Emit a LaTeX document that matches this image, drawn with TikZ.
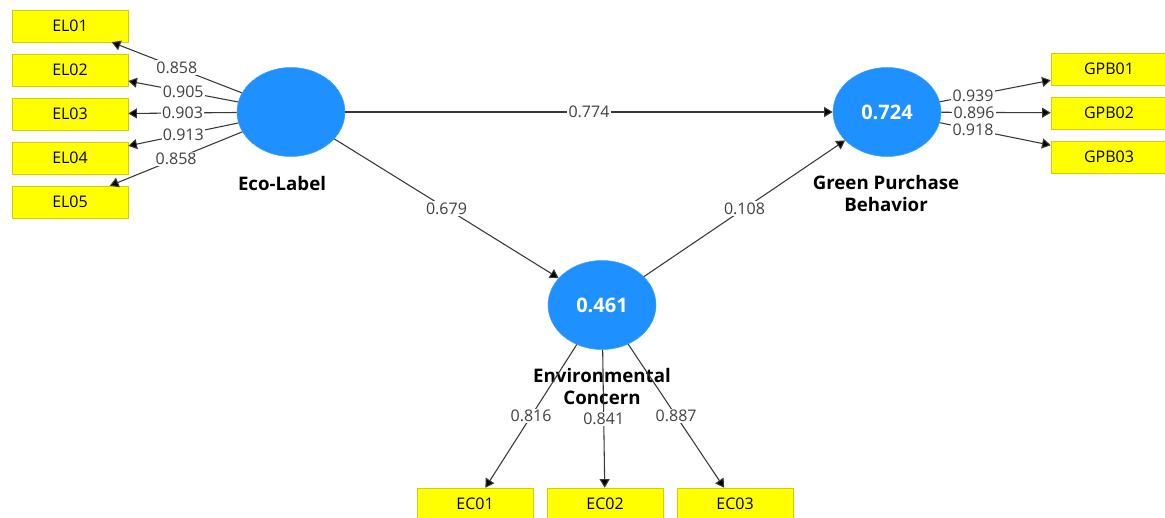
\documentclass[tikz,border=0pt]{standalone}
\usepackage{fontspec}
\setmainfont{Open Sans}
\usetikzlibrary{positioning,shapes.geometric,arrows.meta}
\definecolor{lvblue}{RGB}{30,144,255}
\definecolor{mvyellow}{RGB}{255,255,0}
\definecolor{mvborder}{RGB}{215,205,0}
\definecolor{linkgray}{RGB}{55,55,55}
\tikzset{
latent/.style={ellipse, fill=lvblue, draw=lvblue!85!white, minimum width=81pt, minimum height=66.75pt, inner sep=0pt, text=white, font=\fontsize{15}{17}\selectfont\bfseries}, % latent variable
manifest/.style={rectangle, fill=mvyellow, draw=mvborder, minimum width=87pt, minimum height=24pt, inner sep=0pt, font=\fontsize{12}{14}\selectfont}, % indicator
lvname/.style={font=\fontsize{14}{16.5}\selectfont\bfseries, align=center},
coef/.style={fill=white, inner sep=1pt, text=black!75, font=\fontsize{12}{14}\selectfont},
link/.style={draw=linkgray, line width=0.8pt, -{Triangle[length=6.5pt,width=7.5pt]}},
}
\begin{document}
\begin{tikzpicture}[x=0.75pt,y=-0.75pt,node distance=33pt,on grid]
   \useasboundingbox (0,0) rectangle (1165,518);
   % latent variables
   \node[latent] (eco) at (291,112) {};
   \node[latent] (gpb) at (887,112) {0.724};
   \node[latent] (ec)  at (602,305) {0.461};
   \node[lvname] (eco_name) at (282,183) {Eco-Label};
   \node[lvname] (gpb_name) at (886,193) {Green Purchase\\Behavior};
   \node[lvname] (ec_name)  at (602,386) {Environmental\\Concern};
   % indicators
   \node[manifest] (el_1) at (70,26) {EL01};
   \node[manifest] (el_2) [below=of el_1] {EL02};
   \node[manifest] (el_3) [below=of el_2] {EL03};
   \node[manifest] (el_4) [below=of el_3] {EL04};
   \node[manifest] (el_5) [below=of el_4] {EL05};
   \node[manifest] (gpb_1) at (1109,69) {GPB01};
   \node[manifest] (gpb_2) [below=of gpb_1] {GPB02};
   \node[manifest] (gpb_3) [below=of gpb_2] {GPB03};
   \node[manifest] (ec_1) at (475,504) {EC01};
   \node[manifest] (ec_2) [right=97.5pt of ec_1] {EC02};
   \node[manifest] (ec_3) [right=97.5pt of ec_2] {EC03};
    % structural paths
    \draw[link]
    (eco) edge node[coef] {0.774} (gpb)
    (eco) edge node[coef] {0.679} (ec)
    (ec)  edge node[coef] {0.108} (gpb);
    % outer loadings
    \draw[link]
    (eco) edge node[coef] {0.858} (el_1)
    (eco) edge node[coef] {0.905} (el_2)
    (eco) edge node[coef] {0.903} (el_3)
    (eco) edge node[coef] {0.913} (el_4)
    (eco) edge node[coef] {0.858} (el_5)
    (gpb) edge node[coef,pos=0.3] {0.939} (gpb_1)
    (gpb) edge node[coef,pos=0.3] {0.896} (gpb_2)
    (gpb) edge node[coef,pos=0.3] {0.918} (gpb_3)
    (ec)  edge node[coef] {0.816} (ec_1)
    (ec)  edge node[coef] {0.841} (ec_2)
    (ec)  edge node[coef] {0.887} (ec_3);
\end{tikzpicture}
\end{document}
